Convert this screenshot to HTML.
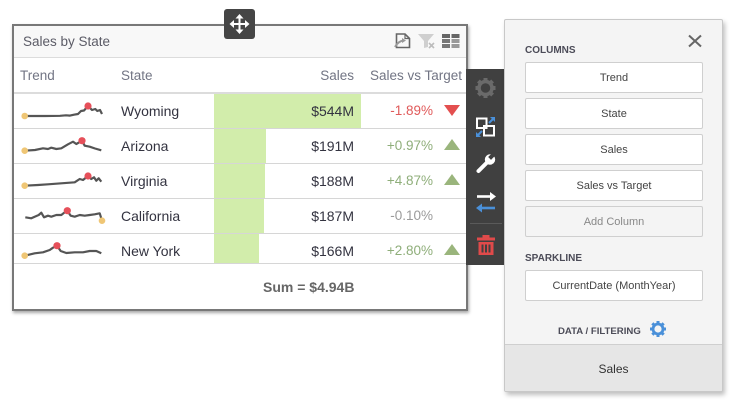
<!DOCTYPE html>
<html><head><meta charset="utf-8"><style>
*{margin:0;padding:0;box-sizing:border-box}
body{width:750px;height:406px;background:#fff;position:relative;overflow:hidden;font-family:"Liberation Sans",sans-serif}
.a{position:absolute}
.t{position:absolute;white-space:nowrap;height:16px;line-height:16px}
.btn{position:absolute;left:525px;width:178px;height:31px;line-height:30px;background:#fff;border:1px solid #cfcfcf;border-radius:2px;text-align:center;font-size:11px;color:#444}
.lbl{position:absolute;font-size:10px;font-weight:bold;color:#4c4c58;height:14px;line-height:14px;white-space:nowrap}
</style></head><body>

<!-- widget -->
<div class="a" style="left:12px;top:24px;width:456px;height:287px;border:2px solid #787878;background:#fff;box-shadow:1px 2px 3px rgba(0,0,0,.35)"></div>
<div class="a" style="left:14px;top:26px;width:452px;height:32px;background:#f8f8f8;border-bottom:1px solid #dcdcdc"></div>
<div class="t" style="left:23px;top:34px;font-size:13.5px;color:#5b5b66">Sales by State</div>

<!-- column headers -->
<div class="t" style="left:20px;top:68px;font-size:13.5px;color:#727584">Trend</div>
<div class="t" style="left:121px;top:68px;font-size:13.5px;color:#727584">State</div>
<div class="t" style="left:0;width:354px;text-align:right;top:68px;font-size:13.5px;color:#727584">Sales</div>
<div class="t" style="left:0;width:462px;text-align:right;top:68px;font-size:13.5px;color:#727584">Sales vs Target</div>
<div class="a" style="left:14px;top:92px;width:452px;height:2px;background:#dcdcdc"></div>

<!-- bars -->
<div class="a" style="left:214px;top:94px;width:147px;height:34px;background:#d2edab"></div>
<div class="a" style="left:214px;top:129px;width:52px;height:34px;background:#d2edab"></div>
<div class="a" style="left:214px;top:164px;width:51px;height:34px;background:#d2edab"></div>
<div class="a" style="left:214px;top:199px;width:50px;height:34px;background:#d2edab"></div>
<div class="a" style="left:214px;top:234px;width:45px;height:29px;background:#d2edab"></div>

<!-- row lines -->
<div class="a" style="left:14px;top:128px;width:452px;height:1px;background:#d6d6d6"></div>
<div class="a" style="left:14px;top:163px;width:452px;height:1px;background:#d6d6d6"></div>
<div class="a" style="left:14px;top:198px;width:452px;height:1px;background:#d6d6d6"></div>
<div class="a" style="left:14px;top:233px;width:452px;height:1px;background:#d6d6d6"></div>
<div class="a" style="left:14px;top:263px;width:452px;height:1px;background:#d6d6d6"></div>

<!-- row text -->
<div class="t" style="left:121px;top:103px;font-size:14px;color:#333340">Wyoming</div>
<div class="t" style="left:121px;top:138px;font-size:14px;color:#333340">Arizona</div>
<div class="t" style="left:121px;top:173px;font-size:14px;color:#333340">Virginia</div>
<div class="t" style="left:121px;top:208px;font-size:14px;color:#333340">California</div>
<div class="t" style="left:121px;top:243px;font-size:14px;color:#333340">New York</div>

<div class="t" style="left:0;width:354px;text-align:right;top:103px;font-size:14px;color:#333340">$544M</div>
<div class="t" style="left:0;width:354px;text-align:right;top:138px;font-size:14px;color:#333340">$191M</div>
<div class="t" style="left:0;width:354px;text-align:right;top:173px;font-size:14px;color:#333340">$188M</div>
<div class="t" style="left:0;width:354px;text-align:right;top:208px;font-size:14px;color:#333340">$187M</div>
<div class="t" style="left:0;width:354px;text-align:right;top:243px;font-size:14px;color:#333340">$166M</div>

<div class="t" style="left:0;width:433px;text-align:right;top:103px;font-size:13.5px;color:#e05a5a">-1.89%</div>
<div class="t" style="left:0;width:433px;text-align:right;top:138px;font-size:13.5px;color:#8fae7a">+0.97%</div>
<div class="t" style="left:0;width:433px;text-align:right;top:173px;font-size:13.5px;color:#8fae7a">+4.87%</div>
<div class="t" style="left:0;width:433px;text-align:right;top:208px;font-size:13.5px;color:#9a9a9a">-0.10%</div>
<div class="t" style="left:0;width:433px;text-align:right;top:243px;font-size:13.5px;color:#8fae7a">+2.80%</div>

<div class="t" style="left:263px;top:279px;font-size:14px;font-weight:bold;color:#666">Sum = $4.94B</div>

<!-- toolbar -->
<div class="a" style="left:466px;top:69px;width:39px;height:196px;background:#404040"></div>

<!-- panel -->
<div class="a" style="left:504px;top:19px;width:219px;height:373px;background:#f4f4f4;border:1px solid #c8c8c8;border-radius:2px;box-shadow:2px 3px 5px rgba(0,0,0,.25);overflow:hidden">
  <div class="a" style="left:0;top:324px;width:219px;height:50px;background:#e6e6e6;border-top:1px solid #cfcfcf"></div>
</div>
<div class="lbl" style="left:525px;top:44px">COLUMNS</div>
<div class="btn" style="top:62px">Trend</div>
<div class="btn" style="top:98px">State</div>
<div class="btn" style="top:134px">Sales</div>
<div class="btn" style="top:170px">Sales vs Target</div>
<div class="btn" style="top:206px;background:#f4f4f4;color:#888">Add Column</div>
<div class="lbl" style="left:525px;top:252px">SPARKLINE</div>
<div class="btn" style="top:270px">CurrentDate (MonthYear)</div>
<div class="lbl" style="left:558px;top:325px;font-size:9.6px">DATA / FILTERING</div>
<div class="t" style="left:504px;width:219px;text-align:center;top:361px;font-size:12px;color:#333">Sales</div>

<svg class="a" style="left:0;top:0" width="750" height="406" viewBox="0 0 750 406">
  <!-- move button -->
  <rect x="224" y="9" width="31" height="30" rx="3" fill="#454545"/>
  <g stroke="#fff" stroke-width="2" fill="none">
    <line x1="239.5" y1="16" x2="239.5" y2="32"/>
    <line x1="231.5" y1="24" x2="247.5" y2="24"/>
  </g>
  <g fill="#fff">
    <polygon points="239.5,14 235.5,18.5 243.5,18.5"/>
    <polygon points="239.5,34 235.5,29.5 243.5,29.5"/>
    <polygon points="229.5,24 234,20 234,28"/>
    <polygon points="249.5,24 245,20 245,28"/>
  </g>

  <!-- header icons -->
  <path d="M396.5 34 H405 L409.5 38.5 V47.5 H396.5 Z" fill="none" stroke="#666" stroke-width="1.6"/>
  <path d="M405 34 V38.5 H409.5" fill="none" stroke="#666" stroke-width="1.2"/>
  <path d="M395 47 Q398 41 404 40.5" fill="none" stroke="#999" stroke-width="2"/>
  <polygon points="402,38 406,40.5 402,43" fill="#999"/>
  <polygon points="418,34 434,34 428,41 428,47 424,48 424,41" fill="#cfcfcf"/>
  <g stroke="#bcbcbc" stroke-width="1.6"><line x1="429" y1="43" x2="434" y2="48"/><line x1="434" y1="43" x2="429" y2="48"/></g>
  <rect x="442" y="34" width="8" height="4" fill="#666"/><rect x="451.5" y="34" width="8" height="4" fill="#666"/>
  <rect x="442" y="39" width="8" height="4" fill="#777"/><rect x="451.5" y="39" width="8" height="4" fill="#9a9a9a"/>
  <rect x="442" y="44" width="8" height="4" fill="#777"/><rect x="451.5" y="44" width="8" height="4" fill="#9a9a9a"/>

  <!-- sparklines -->
  <g fill="none" stroke="#555" stroke-width="2.2" stroke-linejoin="round">
    <path d="M24.7 116 L45 116 L60 115.8 L66 115.3 L70 115.6 L74 114.7 L78 114 L81 111 L84 110.5 L88 106 L92 110 L95.3 109 L97.3 111 L100 110 L102 114"/>
    <path d="M24.7 150.7 L35 150 L43 148.3 L48 149 L51.3 147.7 L56.3 149 L61.3 148.3 L68 144.3 L73 141.7 L76.3 144 L82 140.7 L84.7 145.7 L89.7 146.7 L95 148.5 L101.3 150.3"/>
    <path d="M24.7 185.7 L38 185 L48 184.3 L61.3 183.3 L74.7 182.3 L79.7 179 L83 180 L88 176 L91.3 179 L94 177.3 L96.3 180.7 L98.7 178.3 L101.3 181.7"/>
    <path d="M25.3 217.3 L31.3 218.3 L34.7 216.7 L38.7 215 L41.3 212.7 L44 217.3 L48 215.7 L51.3 216.7 L56.3 215 L61.3 215 L64.7 212.3 L67.3 210.7 L70.7 215.7 L74.7 216.7 L79.7 215 L84.7 215.7 L89.7 215 L94.7 214.3 L99.7 213.3 L102 220.7"/>
    <path d="M24.7 255.7 L34.7 253.3 L43 252.3 L49.7 250 L53 247.7 L57 245.7 L60.7 251 L66.3 253 L74.7 252.3 L83 252.3 L89.7 251 L96.3 251 L101.3 253.3"/>
  </g>
  <g fill="#efc675">
    <circle cx="24.7" cy="116" r="3.3"/><circle cx="24.7" cy="150.7" r="3.3"/><circle cx="24.7" cy="185.7" r="3.3"/><circle cx="102" cy="220.7" r="3.3"/><circle cx="24.7" cy="255.7" r="3.3"/>
  </g>
  <g fill="#e6505a">
    <circle cx="88" cy="106" r="3.6"/><circle cx="82" cy="140.7" r="3.6"/><circle cx="88" cy="176" r="3.6"/><circle cx="67.3" cy="210.7" r="3.6"/><circle cx="57" cy="245.7" r="3.6"/>
  </g>

  <!-- triangles -->
  <polygon points="444,105 460,105 452,116" fill="#e34f4f"/>
  <polygon points="452,139 460,150 444,150" fill="#9ab57c"/>
  <polygon points="452,174 460,185 444,185" fill="#9ab57c"/>
  <polygon points="452,244 460,255 444,255" fill="#9ab57c"/>

  <!-- toolbar icons -->
  <g transform="translate(485.5,88)" fill="#6a6a6a">
    <circle r="6.5" fill="none" stroke="#6a6a6a" stroke-width="3.5"/>
    <rect x="-2" y="-10" width="4" height="4"/><rect x="-2" y="6" width="4" height="4"/>
    <rect x="-10" y="-2" width="4" height="4"/><rect x="6" y="-2" width="4" height="4"/>
    <g transform="rotate(45)"><rect x="-2" y="-10" width="4" height="4"/><rect x="-2" y="6" width="4" height="4"/><rect x="-10" y="-2" width="4" height="4"/><rect x="6" y="-2" width="4" height="4"/></g>
  </g>
  <g fill="none" stroke="#fff" stroke-width="2">
    <rect x="477" y="118.5" width="9.5" height="9.5"/>
    <rect x="484" y="126" width="10" height="9.5"/>
  </g>
  <g stroke="#4a90d9" stroke-width="2" fill="#4a90d9">
    <line x1="489" y1="123" x2="494" y2="118"/><polygon points="495,117 495,122 490,117" stroke="none"/>
    <line x1="477" y1="136" x2="482" y2="131"/><polygon points="476,137 476,132 481,137" stroke="none"/>
  </g>
  <g>
    <line x1="478.5" y1="171" x2="488" y2="161.5" stroke="#fff" stroke-width="4" stroke-linecap="round"/>
    <circle cx="490" cy="159.5" r="5.2" fill="#fff"/>
    <rect x="489" y="151" width="4" height="8" fill="#404040" transform="rotate(45 491 157)"/>
  </g>
  <g>
    <line x1="477" y1="196.5" x2="491" y2="196.5" stroke="#fff" stroke-width="2.6"/>
    <polygon points="496,196.5 490,192 490,201" fill="#fff"/>
    <line x1="481" y1="208" x2="495" y2="208" stroke="#4a90d9" stroke-width="2.6"/>
    <polygon points="476,208 482,203.5 482,212.5" fill="#4a90d9"/>
  </g>
  <line x1="470" y1="223.5" x2="502" y2="223.5" stroke="#5a5a5a" stroke-width="1"/>
  <g fill="#e04a4a">
    <rect x="482.5" y="235" width="7" height="3"/>
    <rect x="477" y="237.5" width="18" height="3"/>
    <path d="M478.5 242 H493.5 V255 H478.5 Z M481.5 244.5 V252.5 H483.5 V244.5 Z M485 244.5 V252.5 H487 V244.5 Z M488.5 244.5 V252.5 H490.5 V244.5 Z" fill-rule="evenodd"/>
  </g>

  <!-- panel close X -->
  <g stroke="#666" stroke-width="2"><line x1="689" y1="35.5" x2="701" y2="46.5"/><line x1="701" y1="35.5" x2="689" y2="46.5"/></g>
  <!-- blue gear -->
  <g transform="translate(658,329)" fill="#4a90d9">
    <circle r="5" fill="none" stroke="#4a90d9" stroke-width="2.8"/>
    <rect x="-1.5" y="-8" width="3" height="3"/><rect x="-1.5" y="5" width="3" height="3"/>
    <rect x="-8" y="-1.5" width="3" height="3"/><rect x="5" y="-1.5" width="3" height="3"/>
    <g transform="rotate(45)"><rect x="-1.5" y="-8" width="3" height="3"/><rect x="-1.5" y="5" width="3" height="3"/><rect x="-8" y="-1.5" width="3" height="3"/><rect x="5" y="-1.5" width="3" height="3"/></g>
  </g>
</svg>
</body></html>
